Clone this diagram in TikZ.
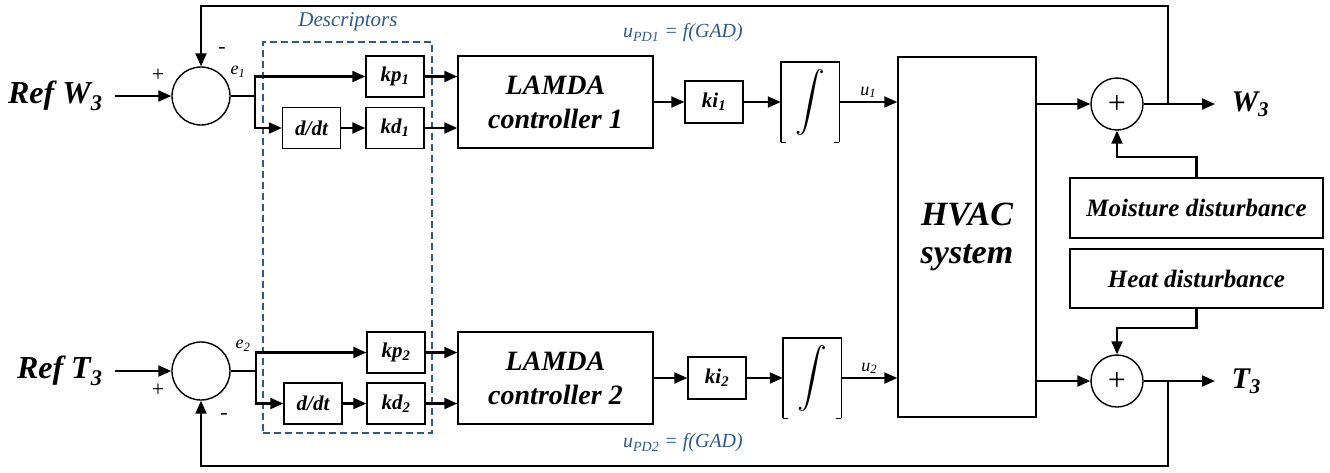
\documentclass[tikz,border=0pt]{standalone}
\usepackage{exscale}
\usepackage{graphicx}
\usepackage{fontspec}
\setmainfont{Liberation Serif}
\usepackage{tikz}
\usetikzlibrary{arrows.meta,positioning,calc}
\definecolor{descblue}{RGB}{46,89,140}
\newcommand{\bigint}{\resizebox*{!}{66pt}{$\displaystyle\int$}}

\begin{document}
\begin{tikzpicture}[x=1pt, y=-1pt,
  blk/.style={draw, line width=1.4pt, inner sep=0pt, align=center, font=\fontsize{21}{23}\selectfont\bfseries\itshape},
  kbox/.style={blk, minimum width=58pt, minimum height=41pt},
  lamda/.style={blk, minimum width=195pt, minimum height=92pt, font=\fontsize{28}{34}\selectfont\bfseries\itshape},
  intbox/.style={inner sep=0pt, minimum width=58pt, minimum height=80pt},
  sumc/.style={draw, circle, line width=1.4pt, minimum size=58pt, inner sep=0pt},
  pls/.style={draw, circle, line width=1.4pt, minimum size=52pt, inner sep=0pt, font=\fontsize{32}{32}\selectfont},
  dist/.style={blk, minimum width=253pt, minimum height=60pt, font=\fontsize{25}{27}\selectfont\bfseries\itshape},
  arr/.style={-{Triangle[length=13pt,width=11pt]}, line width=2.1pt},
  ln/.style={line width=2.1pt},
  sig/.style={font=\fontsize{18}{20}\selectfont\itshape},
  sgn/.style={font=\fontsize{22}{24}\selectfont},
  note/.style={text=descblue, font=\fontsize{20}{22}\selectfont\itshape},
  io/.style={font=\fontsize{32}{34}\selectfont\bfseries\itshape}
]
\useasboundingbox (0,0) rectangle (1330,472);

% descriptors frame
\node[draw=descblue, line width=1.3pt, dash pattern=on 7pt off 4pt, minimum width=169pt, minimum height=391pt] (desc) at (347.5,237.5) {};
\node[note, font=\fontsize{21}{23}\selectfont\itshape] (desclbl) at (348,22) {Descriptors};

% loop 1
\node[io, anchor=east] (refw) at (106,96) {Ref W\textsubscript{3}};
\node[sumc] (s1) at (201,96) {};
\coordinate (b1) at (255,96);
\node[kbox] (kp1) at (395,76.5) {kp\textsubscript{1}};
\node[kbox] (dd1) at (311.5,128) {d/dt};
\node[kbox] (kd1) at (395,128) {kd\textsubscript{1}};
\node[lamda] (lam1) at (555.5,102) {LAMDA\\controller 1};
\node[kbox, minimum height=42pt] (ki1) at (714,102) {ki\textsubscript{1}};
\node[intbox] (int1) at (810,102) {\bigint};

% loop 2
\node[io, anchor=east] (reft) at (106,371) {Ref T\textsubscript{3}};
\node[sumc] (s2) at (201,371) {};
\coordinate (b2) at (256,371);
\node[kbox] (kp2) at (396,352.5) {kp\textsubscript{2}};
\node[kbox] (dd2) at (313,403.5) {d/dt};
\node[kbox] (kd2) at (396,403.5) {kd\textsubscript{2}};
\node[lamda] (lam2) at (555.5,378) {LAMDA\\controller 2};
\node[kbox, minimum height=42pt] (ki2) at (717,378) {ki\textsubscript{2}};
\node[intbox] (int2) at (812,378) {\bigint};

% plant and outputs
\node[blk, minimum width=138pt, minimum height=360pt, font=\fontsize{34}{38}\selectfont\bfseries\itshape] (hvac) at (967,237) {HVAC\\system};
\node[pls] (s3) at (1117,104) {+};
\node[pls] (s4) at (1117,381) {+};
\node[dist] (moist) at (1196.5,208) {Moisture disturbance};
\node[dist, minimum height=59pt] (heat) at (1196.5,278.5) {Heat disturbance};
\node[io, font=\fontsize{30}{32}\selectfont\bfseries\itshape, anchor=west] (w3) at (1228,104) {W\textsubscript{3}};
\node[io, font=\fontsize{30}{32}\selectfont\bfseries\itshape, anchor=west] (t3) at (1228,381) {T\textsubscript{3}};
\coordinate (fb1) at (1168,104);
\coordinate (fb2) at (1168,381);
\coordinate (top) at (201,6);
\coordinate (bot) at (201,466);

% integrator frames (open bottom)
\foreach \n in {int1,int2} {
  \draw[line width=1.4pt] (\n.south west) -- (\n.north west) -- (\n.north east) -- (\n.south east);
  \draw[line width=1.4pt] (\n.south west) -- ++(5,0);
  \draw[line width=1.4pt] (\n.south east) -- ++(-5,0);
}

% signs and signals
\node[sgn] (p1) at (158,75) {+};
\node[sgn] (m1) at (222,50) {-};
\node[sig] (e1) at (238,72) {e\textsubscript{1}};
\node[sgn] (p2) at (158,390) {+};
\node[sgn] (m2) at (224,416) {-};
\node[sig] (e2) at (243,346) {e\textsubscript{2}};
\node[note] (upd1) at (683,33) {u\textsubscript{PD1} = f(GAD)};
\node[note] (upd2) at (683,443) {u\textsubscript{PD2} = f(GAD)};

% connectors loop 1
\draw[arr] ([xshift=9pt]refw.east) -- (s1.west);
\draw[ln] (s1.east) -- (b1);
\draw[arr] (b1) |- (kp1.west);
\draw[arr] (b1) |- (dd1.west);
\draw[arr] (dd1) -- (kd1);
\draw[arr] (kp1.east) -- (kp1.east -| lam1.west);
\draw[arr] (kd1.east) -- (kd1.east -| lam1.west);
\draw[arr] (lam1) -- (ki1);
\draw[arr] (ki1) -- (int1);
\draw[arr] (int1.east) -- node[sig, above] {u\textsubscript{1}} (int1.east -| hvac.west);

% connectors loop 2
\draw[arr] ([xshift=9pt]reft.east) -- (s2.west);
\draw[ln] (s2.east) -- (b2);
\draw[arr] (b2) |- (kp2.west);
\draw[arr] (b2) |- (dd2.west);
\draw[arr] (dd2) -- (kd2);
\draw[arr] (kp2.east) -- (kp2.east -| lam2.west);
\draw[arr] (kd2.east) -- (kd2.east -| lam2.west);
\draw[arr] (lam2) -- (ki2);
\draw[arr] (ki2) -- (int2);
\draw[arr] (int2.east) -- node[sig, above] {u\textsubscript{2}} (int2.east -| hvac.west);

% outputs, disturbances, feedback
\draw[arr] (hvac.east |- s3) -- (s3.west);
\draw[arr] (hvac.east |- s4) -- (s4.west);
\draw[arr] (s3.east) -- ([xshift=-13pt]w3.west);
\draw[arr] (s4.east) -- ([xshift=-13pt]t3.west);
\draw[arr] (moist.north) -- ++(0,-20) -| (s3.south);
\draw[arr] (heat.south) -- ++(0,19) -| (s4.north);
\draw[arr] (fb1) |- (top) -- (s1.north);
\draw[arr] (fb2) |- (bot) -- (s2.south);
\end{tikzpicture}
\end{document}
